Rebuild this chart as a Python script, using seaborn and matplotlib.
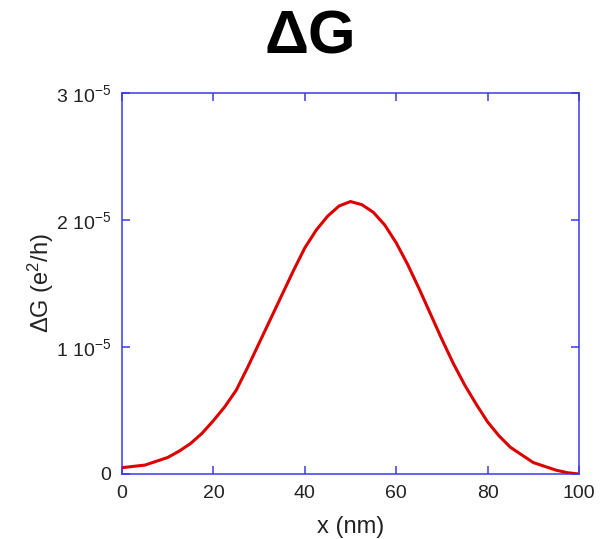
import numpy as np
import pandas as pd
import matplotlib
matplotlib.use("Agg")
import matplotlib.pyplot as plt
import seaborn as sns

# Data (x in nm, dG in units of 1e-5 e^2/h)
x_nm = [0, 2.5, 5, 7.5, 10, 12.5, 15, 17.5, 20, 22.5, 25, 27.5, 30, 32.5, 35,
        37.5, 40, 42.5, 45, 47.5, 50, 52.5, 55, 57.5, 60, 62.5, 65, 67.5, 70,
        72.5, 75, 77.5, 80, 82.5, 85, 87.5, 90, 92.5, 95, 97.5, 100]
dG_e5 = [0.05, 0.06, 0.07, 0.10, 0.13, 0.18, 0.24, 0.32, 0.42, 0.53, 0.66,
         0.84, 1.03, 1.22, 1.41, 1.60, 1.78, 1.92, 2.03, 2.11, 2.145, 2.12,
         2.06, 1.96, 1.82, 1.65, 1.46, 1.26, 1.06, 0.87, 0.70, 0.55, 0.41,
         0.30, 0.21, 0.15, 0.09, 0.06, 0.03, 0.01, 0.0]
x_ticks = [0, 20, 40, 60, 80, 100]
y_ticks = [0, 1e-5, 2e-5, 3e-5]
y_ticklabels = ["0", "1 10$^{-5}$", "2 10$^{-5}$", "3 10$^{-5}$"]

sns.set_style("ticks")
plt.rcParams["font.family"] = ["Liberation Sans", "DejaVu Sans"]
plt.rcParams["mathtext.default"] = "regular"

df = pd.DataFrame({"x": x_nm, "dG": np.array(dG_e5) * 1e-5})

fig = plt.figure(figsize=(6.04, 5.39), dpi=100)
ax = fig.add_axes([0.202, 0.1206, 0.7566, 0.707])

sns.lineplot(data=df, x="x", y="dG", ax=ax, color="#dd0000", linewidth=2.2)

blue = "#3a3ae8"
ax.set_xlim(0, 100)
ax.set_ylim(0, 3e-5)
ax.set_xticks(x_ticks)
ax.set_xticklabels([str(t) for t in x_ticks])
ax.set_yticks(y_ticks)
ax.set_yticklabels(y_ticklabels)
for s in ax.spines.values():
    s.set_color(blue)
    s.set_linewidth(1.1)
ax.tick_params(axis="both", direction="in", length=5.5, width=1.1, color=blue,
               top=True, right=True, labelsize=14, labelcolor="#222222", pad=8)

ax.set_xlabel("x (nm)", fontsize=17, color="#222222", labelpad=10)
ax.set_ylabel("ΔG (e$^2$/h)", fontsize=17, color="#222222", labelpad=0)

fig.text(0.513, 0.93, "ΔG", fontsize=44, fontweight="bold", ha="center",
         va="center", color="black")

fig.savefig("out.png", dpi=100)
